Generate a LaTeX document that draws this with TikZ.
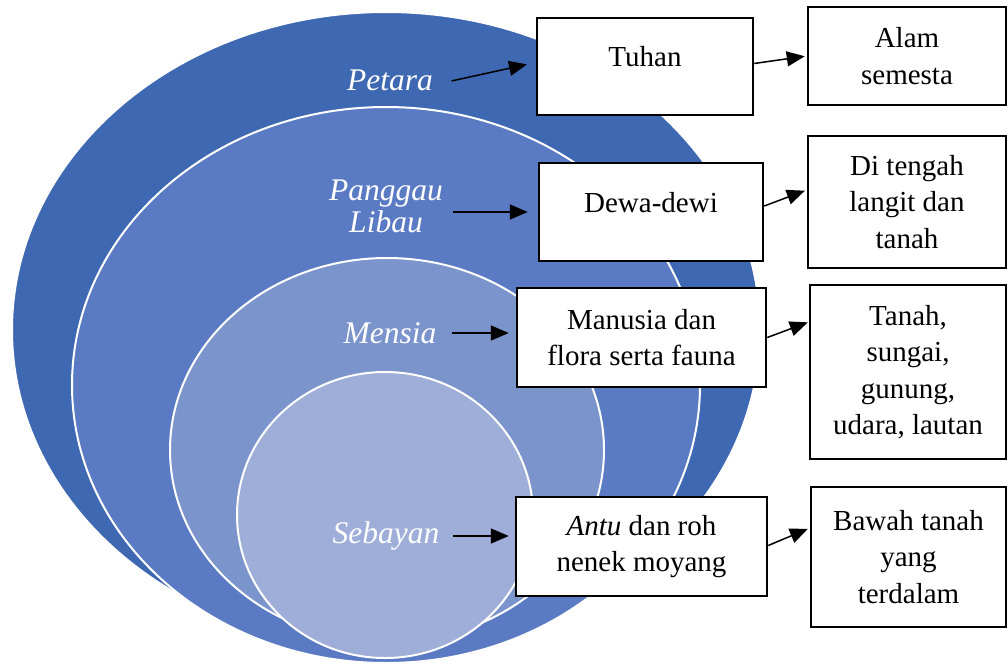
\documentclass[tikz,border=0pt]{standalone}
\usepackage{fontspec}
\setmainfont{Liberation Serif}
\usepackage{tikz}
\usetikzlibrary{arrows.meta}
\definecolor{petaraC}{HTML}{3E68B1}
\definecolor{panggauC}{HTML}{5A7BC3}
\definecolor{mensiaC}{HTML}{7B94CC}
\definecolor{sebayanC}{HTML}{9FAED8}
\tikzstyle{realm}=[rectangle, draw=black, line width=2.5pt, fill=white, align=center, inner sep=0pt, font=\fontsize{29}{36.5}\selectfont]
\tikzstyle{layer}=[text=white, align=center, inner sep=0pt, font=\fontsize{31.5}{32}\selectfont\itshape]
\tikzstyle{world}=[fill=#1, draw=white, line width=2pt]
\tikzstyle{link}=[line width=1.5pt, -{Triangle[length=18pt,width=15pt]}]

\begin{document}
\begin{tikzpicture}[x=1pt, y=-1pt]
    \useasboundingbox (0,0) rectangle (1008,670);
    % nested worlds
    \path[world=petaraC] (386,330) ellipse [x radius=374pt, y radius=318pt];
    \path[world=panggauC] (386,385) ellipse [x radius=314pt, y radius=278pt];
    \path[world=mensiaC] (387,450) ellipse [x radius=217pt, y radius=192pt];
    \path[world=sebayanC] (385,515) ellipse [x radius=148pt, y radius=143pt];

    \node (petara) [layer] at (390,80) {Petara};
    \node (panggau) [layer] at (386,206) {Panggau\\Libau};
    \node (mensia) [layer] at (390,333) {Mensia};
    \node (sebayan) [layer] at (386,536) {Sebayan};

    % who lives there
    \node (tuhan) [realm, minimum width=216pt, minimum height=97pt, text height=20pt, text depth=20pt] at (645,66.5) {Tuhan};
    \node (dewa) [realm, minimum width=224pt, minimum height=98pt, text height=20pt, text depth=20pt] at (651,212) {Dewa-dewi};
    \node (manusia) [realm, minimum width=249pt, minimum height=99pt] at (641.5,337.5)
        {Manusia dan\\flora serta fauna};
    \node (antu) [realm, minimum width=251pt, minimum height=99pt] at (641.5,546.5)
        {\textit{Antu} dan roh\\nenek moyang};

    % where they are
    \node (alam) [realm, minimum width=198pt, minimum height=98pt] at (907,56)
        {Alam\\semesta};
    \node (tengah) [realm, minimum width=198pt, minimum height=132pt] at (907,202)
        {Di tengah\\langit dan\\tanah};
    \node (tanah) [realm, minimum width=196pt, minimum height=174pt] at (908,372)
        {Tanah,\\sungai,\\gunung,\\udara, lautan};
    \node (bawah) [realm, minimum width=195pt, minimum height=140pt] at (908.5,557)
        {Bawah tanah\\yang\\terdalam};

    \draw[link, shorten <=19pt, shorten >=9pt] ([yshift=-5pt]petara.east) -- ([yshift=4pt]tuhan.west);
    \draw[link, shorten <=10pt, shorten >=10pt] ([yshift=-6pt]panggau.east) -- (dewa.west);
    \draw[link, shorten <=15pt, shorten >=7pt] (mensia.east) -- (mensia.east -| manusia.west);
    \draw[link, shorten <=13pt, shorten >=6pt] (sebayan.east) -- (sebayan.east -| antu.west);

    \draw[link, shorten >=2pt] ([yshift=3pt]tuhan.east) -- (alam.west);
    \draw[link, shorten >=2pt] ([yshift=6pt]dewa.east) -- ([yshift=12pt]tengah.west);
    \draw[link, shorten >=1pt] (manusia.east) -- ([yshift=50pt]tanah.west);
    \draw[link, shorten >=2pt] ([yshift=1pt]antu.east) -- ([yshift=29pt]bawah.west);
\end{tikzpicture}
\end{document}
